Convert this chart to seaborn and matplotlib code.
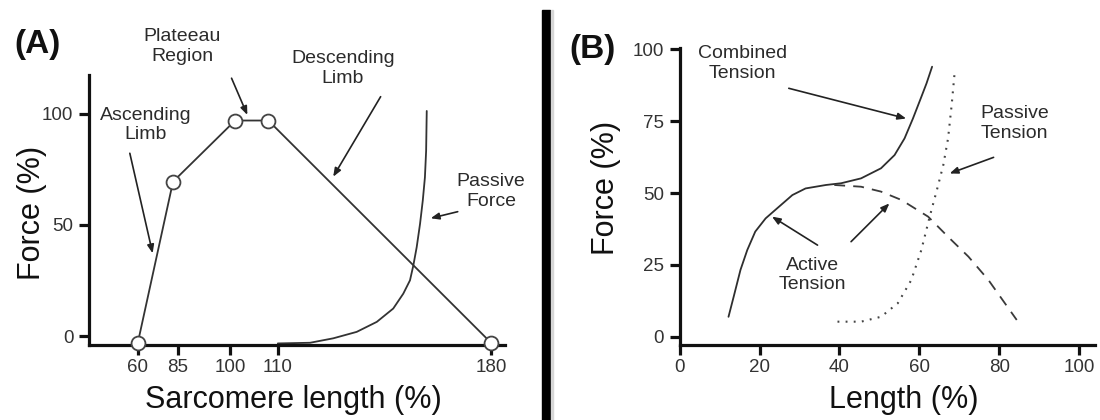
import numpy as np
import pandas as pd
import matplotlib
matplotlib.use('Agg')
import matplotlib.pyplot as plt
import seaborn as sns
from matplotlib.patches import Rectangle

# ---- Panel A: sarcomere force-length relation ----
sarc_len = [60, 82, 101, 108, 180]
sarc_force = [-3, 69.5, 97, 97, -3]
passive_len = [110, 120.6, 128.2, 135.9, 142.5, 147.9, 151.2, 153.4, 154.5,
               155.6, 156.7, 157.6, 158.3, 158.7, 158.9]
passive_force = [-3.3, -3.0, -1.0, 1.9, 6.4, 12.4, 19.1, 25.1, 31.8,
                 40.0, 50.5, 61.0, 71.4, 83.4, 101.3]
a_xticks = [60, 85, 100, 110, 180]
a_yticks = [0, 50, 100]

# ---- Panel B: muscle length-tension ----
comb_len = [12.2, 13.5, 15.2, 16.9, 18.9, 21.5, 24.8, 28.2, 31.5, 36.6, 40.4,
            45.4, 50.4, 53.8, 56.3, 58.4, 60.5, 61.8, 63.2]
comb_force = [7.0, 14.0, 23.3, 30.2, 36.6, 41.2, 45.2, 49.3, 51.6, 52.8, 53.4,
              55.1, 58.6, 63.2, 69.0, 75.9, 83.4, 88.1, 93.9]
active_len = [38.7, 45.4, 50.4, 55.5, 62.2, 67.2, 72.3, 77.3, 84.4]
active_force = [52.8, 52.2, 50.5, 47.6, 41.8, 34.8, 27.9, 19.8, 5.9]
pass_len = [39.5, 45.4, 50.4, 54.6, 58.0, 60.5, 62.6, 64.5, 66.0, 67.2, 68.1, 68.9]
pass_force = [5.3, 5.3, 7.0, 11.7, 19.8, 30.2, 41.8, 51.6, 59.7, 69.0, 80.6, 92.7]
b_xticks = [0, 20, 40, 60, 80, 100]
b_yticks = [0, 25, 50, 75, 100]

# uneven spacing of the sarcomere length axis (value -> screen position)
axis_vals = [0, 60, 85, 100, 110, 180, 260]
axis_pos = [41.8, 137.8, 177.8, 230.4, 277.8, 491.0, 734.7]


def fwd(v):
    return np.interp(v, axis_vals, axis_pos)


def inv(p):
    return np.interp(p, axis_pos, axis_vals)


sns.set_style('ticks')
plt.rcParams['font.family'] = ['Liberation Sans', 'DejaVu Sans']

ink = '#2b2b2b'
arrow = dict(arrowstyle='-|>,head_length=0.5,head_width=0.2', lw=1.2,
             color='#222222', shrinkA=0, shrinkB=0)

fig = plt.figure(figsize=(11, 4.2), dpi=100)
axA = fig.add_axes([0.0813, 0.1786, 0.3778, 0.6429])
axB = fig.add_axes([0.618, 0.1786, 0.3778, 0.7071])

# Panel A
sns.lineplot(x=sarc_len, y=sarc_force, ax=axA, sort=False, estimator=None,
             color='#333333', lw=1.3, marker='o', markersize=10,
             markerfacecolor='white', markeredgecolor='#444444',
             markeredgewidth=1.3, clip_on=False, zorder=3)
sns.lineplot(x=passive_len, y=passive_force, ax=axA, estimator=None,
             sort=False, color='#333333', lw=1.3)
axA.set_xscale('function', functions=(fwd, inv))
axA.set_xlim(29.75, 184.6)
axA.set_ylim(-4, 117.5)
axA.set_xticks(a_xticks)
axA.set_xticklabels([str(t) for t in a_xticks])
axA.set_yticks(a_yticks)

tA = axA.transAxes
axA.text(-0.125, 1.111, '(A)', transform=tA, fontsize=24, fontweight='bold',
         ha='center', va='center', color='#111111')
axA.text(0.2238, 1.106, 'Plateeau\nRegion', transform=tA, fontsize=14,
         ha='center', va='center', color=ink)
axA.annotate('', xy=(0.380, 0.852), xytext=(0.342, 0.988), xycoords=tA,
             textcoords=tA, arrowprops=arrow, annotation_clip=False)
axA.text(0.610, 1.025, 'Descending\nLimb', transform=tA, fontsize=14,
         ha='center', va='center', color=ink)
axA.annotate('', xy=(0.5866, 0.6233), xytext=(0.7007, 0.9196), xycoords=tA,
             textcoords=tA, arrowprops=arrow)
axA.text(0.1352, 0.8148, 'Ascending\nLimb', transform=tA, fontsize=14,
         ha='center', va='center', color=ink)
axA.annotate('', xy=(0.1521, 0.3396), xytext=(0.0972, 0.71), xycoords=tA,
             textcoords=tA, arrowprops=arrow)
axA.text(0.9663, 0.5678, 'Passive\nForce', transform=tA, fontsize=14,
         ha='center', va='center', color=ink)
axA.annotate('', xy=(0.8212, 0.4693), xytext=(0.8862, 0.4937), xycoords=tA,
             textcoords=tA, arrowprops=arrow, annotation_clip=False)

axA.set_xlabel('Sarcomere length (%)', fontsize=22, va='center', color='#111111')
axA.xaxis.set_label_coords(0.4897, -0.203)
axA.set_ylabel('Force (%)', fontsize=22, va='center', color='#111111')
axA.yaxis.set_label_coords(-0.139, 0.489)

# Panel B
sns.lineplot(x=comb_len, y=comb_force, ax=axB, estimator=None,
             color='#2e2e2e', lw=1.3)
sns.lineplot(x=active_len, y=active_force, ax=axB, estimator=None,
             color='#3a3a3a', lw=1.3, linestyle=(0, (6, 4.5)))
sns.lineplot(x=pass_len, y=pass_force, ax=axB, estimator=None, sort=False,
             color='#444444', lw=1.5, linestyle=(0, (0.9, 3.0)))
axB.set_xlim(0, 104.1)
axB.set_ylim(-2.8, 100.4)
axB.set_xticks(b_xticks)
axB.set_yticks(b_yticks)

tB = axB.transAxes
axB.text(-0.2089, 0.9933, '(B)', transform=tB, fontsize=24, fontweight='bold',
         ha='center', va='center', color='#111111')
axB.text(15.7, 95.0, 'Combined\nTension', fontsize=14, ha='center',
         va='center', color=ink)
axB.annotate('', xy=(56.7, 75.9), xytext=(27.3, 86.4), arrowprops=arrow)
axB.text(83.8, 74.2, 'Passive\nTension', fontsize=14, ha='center',
         va='center', color=ink)
axB.annotate('', xy=(67.6, 56.8), xytext=(78.6, 62.4), arrowprops=arrow)
axB.text(33.2, 21.5, 'Active\nTension', fontsize=14, ha='center',
         va='center', color=ink)
axB.annotate('', xy=(23.1, 41.8), xytext=(34.5, 31.9), arrowprops=arrow)
axB.annotate('', xy=(52.5, 46.4), xytext=(42.9, 33.1), arrowprops=arrow)

axB.set_xlabel('Length (%)', fontsize=22, va='center', color='#111111')
axB.xaxis.set_label_coords(0.540, -0.185)
axB.set_ylabel('Force (%)', fontsize=22, va='center', color='#111111')
axB.yaxis.set_label_coords(-0.1776, 0.5276)

for ax in (axA, axB):
    sns.despine(ax=ax)
    for side in ('left', 'bottom'):
        ax.spines[side].set_linewidth(2.3)
        ax.spines[side].set_color('#111111')
    ax.tick_params(axis='both', length=7.5, width=2.3, color='#111111',
                   labelsize=13.5, labelcolor='#333333')
    ax.tick_params(axis='x', pad=2.5)
    ax.tick_params(axis='y', pad=4)

# thick divider between the two panels
fig.patches.append(Rectangle((542 / 1100, 0), 8 / 1100, 410 / 420,
                             transform=fig.transFigure, color='black'))
fig.patches.append(Rectangle((551 / 1100, 0), 2 / 1100, 410 / 420,
                             transform=fig.transFigure, color='#d6d6d6'))

fig.savefig('out.png', dpi=100)
